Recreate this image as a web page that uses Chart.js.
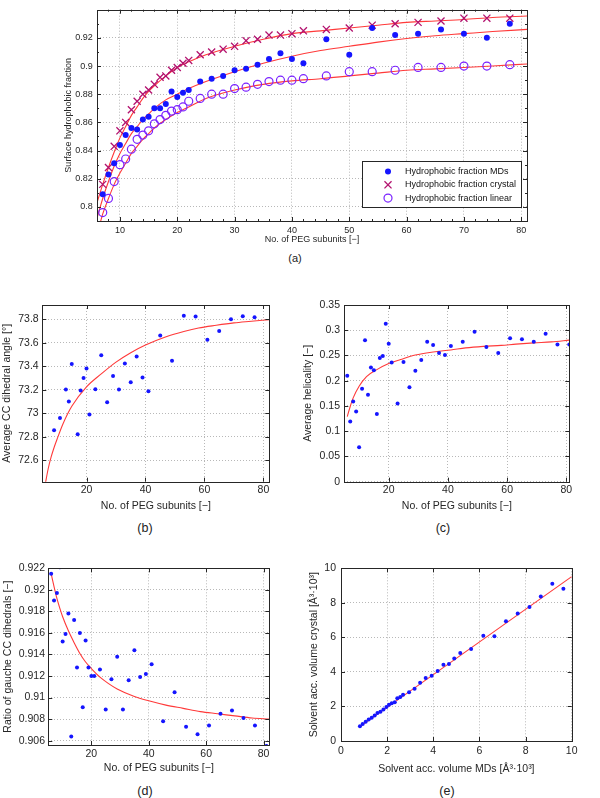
<!DOCTYPE html>
<html><head><meta charset="utf-8">
<script src="https://cdn.jsdelivr.net/npm/chart.js@4.4.1/dist/chart.umd.min.js"></script>
<style>
html,body{margin:0;padding:0;background:#fff;}
#wrap{position:relative;width:600px;height:798px;overflow:hidden;background:#fff;font-family:"Liberation Sans",Arial,Helvetica,sans-serif;}
canvas{position:absolute;}
.lab{position:absolute;transform:translate(-50%,-50%);color:#222;white-space:nowrap;}
</style></head><body>
<div id="wrap">
<canvas id="cA" width="600" height="250" style="left:0;top:0;width:600px;height:250px"></canvas>
<canvas id="cB" width="300" height="230" style="left:0;top:290px;width:300px;height:230px"></canvas>
<canvas id="cC" width="300" height="230" style="left:300px;top:290px;width:300px;height:230px"></canvas>
<canvas id="cD" width="300" height="240" style="left:0;top:540px;width:300px;height:240px"></canvas>
<canvas id="cE" width="300" height="240" style="left:300px;top:540px;width:300px;height:240px"></canvas>
<div class="lab" style="left:295px;top:258px;font-size:11px">(a)</div>
<div class="lab" style="left:145px;top:528px;font-size:12.5px">(b)</div>
<div class="lab" style="left:443px;top:528px;font-size:12.5px">(c)</div>
<div class="lab" style="left:145px;top:791px;font-size:12.5px">(d)</div>
<div class="lab" style="left:447px;top:791px;font-size:12.5px">(e)</div>
</div>
<script>
// ---------------- DATA ----------------
// (a) surface hydrophobic fraction
const subunitsA = [7,8,9,10,11,12,13,14,15,16,17,18,19,20,21,22,24,26,28,30,32,34,36,38,40,42,46,50,54,58,62,66,70,74,78];
const fracMD = [0.809,0.823,0.831,0.844,0.851,0.856,0.855,0.862,0.864,0.870,0.870,0.873,0.882,0.878,0.881,0.883,0.889,0.891,0.893,0.897,0.898,0.901,0.905,0.909,0.905,0.902,0.919,0.908,0.927,0.922,0.923,0.926,0.923,0.920,0.930];
const fracCrystal = [0.816,0.828,0.843,0.854,0.860,0.869,0.875,0.880,0.883,0.887,0.892,0.893,0.897,0.899,0.902,0.904,0.908,0.910,0.912,0.914,0.918,0.919,0.922,0.922,0.923,0.925,0.926,0.927,0.929,0.930,0.931,0.932,0.934,0.934,0.934];
const fracLinear = [0.796,0.806,0.818,0.830,0.834,0.841,0.848,0.851,0.854,0.859,0.862,0.865,0.868,0.869,0.871,0.875,0.877,0.880,0.880,0.884,0.885,0.887,0.889,0.890,0.890,0.891,0.893,0.896,0.896,0.897,0.899,0.899,0.900,0.900,0.901];
const fitSubunitsA = [6,7,8,9,10,11,12,13,14,15,16,18,20,22,25,30,35,40,45,50,55,60,65,70,75,81];
const fitMD = [0.792,0.806,0.818,0.829,0.838,0.845,0.852,0.857,0.862,0.866,0.870,0.876,0.880,0.884,0.889,0.896,0.902,0.907,0.911,0.914,0.917,0.9195,0.9215,0.923,0.9245,0.926];
const fitCrystal = [0.803,0.816,0.828,0.839,0.849,0.857,0.865,0.871,0.877,0.882,0.886,0.893,0.899,0.903,0.908,0.914,0.919,0.923,0.925,0.927,0.929,0.931,0.932,0.933,0.9345,0.9355];
const fitLinear = [0.780,0.795,0.806,0.816,0.824,0.831,0.838,0.843,0.848,0.852,0.856,0.862,0.867,0.871,0.877,0.883,0.887,0.8895,0.891,0.893,0.895,0.897,0.898,0.899,0.900,0.9015];
const xTicksA = [10,20,30,40,50,60,70,80];
const yTicksA = [0.8,0.82,0.84,0.86,0.88,0.9,0.92];
const xMinorA = [8,12,14,16,18,22,24,26,28,32,34,36,38,42,44,46,48,52,54,56,58,62,64,66,68,72,74,76,78];
const yMinorA = [0.81,0.83,0.85,0.87,0.89,0.91,0.93];
const legendA = ['Hydrophobic fraction MDs','Hydrophobic fraction crystal','Hydrophobic fraction linear'];

// (b) average CC dihedral angle
const subunitsB = [9,11,13,14,15,17,18,19,20,21,23,25,27,29,31,33,35,37,39,41,45,49,53,57,61,65,69,73,77];
const dihedralB = [72.857,72.961,73.202,73.10,73.42,72.823,73.194,73.30,73.38,72.99,73.205,73.494,73.095,73.318,73.202,73.423,73.265,73.483,73.304,73.188,73.661,73.446,73.828,73.823,73.624,73.70,73.80,73.825,73.817];
const fitSubunitsB = [6,7,8,9,10,12,15,20,25,30,35,40,47,53,58,64,70,75,82];
const fitDihedralB = [72.40,72.53,72.63,72.71,72.78,72.91,73.06,73.225,73.335,73.435,73.515,73.58,73.65,73.695,73.725,73.748,73.768,73.78,73.795];
const xTicksBCD = [20,40,60,80];
const yTicksB = [72.6,72.8,73,73.2,73.4,73.6,73.8];

// (c) average helicality
const subunitsC = [6,7,8,9,10,11,12,13,14,15,16,17,18,19,20,21,23,25,27,29,31,33,35,37,39,41,45,49,53,57,61,65,69,73,77,81];
const helicalityC = [0.210,0.119,0.159,0.139,0.068,0.184,0.280,0.172,0.226,0.221,0.134,0.245,0.249,0.313,0.273,0.236,0.155,0.237,0.187,0.220,0.241,0.277,0.271,0.255,0.251,0.269,0.277,0.297,0.267,0.255,0.284,0.282,0.277,0.293,0.272,0.272];
const fitSubunitsC = [6,7,8,10,12.5,16,20,24,29,35,41,46,52,58,63,69,75,81];
const fitHelicalityC = [0.129,0.149,0.166,0.189,0.208,0.222,0.234,0.242,0.251,0.257,0.261,0.265,0.268,0.270,0.2725,0.275,0.277,0.2805];
const yTicksC = [0,0.05,0.1,0.15,0.2,0.25,0.3,0.35];

// (d) ratio of gauche CC dihedrals
const subunitsD = [6,7,8,9,10,11,12,13,14,15,16,17,18,19,20,21,23,25,27,29,31,33,35,37,39,41,45,49,53,57,61,65,69,73,77,81];
const gaucheD = [0.9215,0.9190,0.9197,0.9221,0.9152,0.9159,0.9178,0.9064,0.9172,0.9128,0.9160,0.9091,0.9153,0.9128,0.9120,0.9120,0.9126,0.9089,0.9117,0.9138,0.9089,0.9116,0.9144,0.9119,0.9122,0.9131,0.9078,0.9105,0.9073,0.9066,0.9074,0.9085,0.9088,0.9081,0.9074,0.9055];
const fitSubunitsD = [6,7,8,9,10,12,14,16,18,20,23,26,29,35,40,46,52,58,64,70,76,82];
const fitGaucheD = [0.9215,0.9203,0.9192,0.9183,0.9175,0.9162,0.9151,0.9141,0.9133,0.9127,0.9119,0.9113,0.9108,0.9101,0.9097,0.9093,0.9090,0.9087,0.9085,0.9083,0.9081,0.9080];
const yTicksD = [0.906,0.908,0.91,0.912,0.914,0.916,0.918,0.92,0.922];

// (e) solvent accessible volume
const volumeMD = [0.82,0.94,1.07,1.20,1.33,1.46,1.58,1.71,1.84,1.97,2.08,2.20,2.33,2.44,2.57,2.69,2.95,3.19,3.43,3.67,3.93,4.19,4.44,4.68,4.91,5.17,5.64,6.17,6.65,7.15,7.66,8.17,8.66,9.16,9.64];
const volumeCrystal = [0.85,0.98,1.12,1.24,1.35,1.47,1.62,1.70,1.82,1.97,2.10,2.18,2.24,2.47,2.55,2.68,2.82,3.03,3.38,3.65,3.78,4.05,4.42,4.46,4.77,5.10,5.33,6.10,6.06,6.93,7.38,7.76,8.36,9.11,8.82];
const fitVolumeX = [0.82,10];
const fitVolumeY = [0.83,9.52];
const ticksE = [0,2,4,6,8,10];

// ---------------- STYLE / HELPERS ----------------
const FONT = '"Liberation Sans", Arial, Helvetica, sans-serif';
const INK = '#262626';
const RED = '#ff3a3a';
const BLUE = '#1515ff';
const CRIMSON = '#b3126f';
const VIOLET = '#7a22ff';
const pts = (xs, ys) => xs.map((x, i) => ({x: x, y: ys[i]}));

const matlabBox = {
  id: 'matlabBox',
  afterDraw(chart, args, o) {
    const ctx = chart.ctx, a = chart.chartArea, xs = chart.scales.x, ys = chart.scales.y;
    ctx.save();
    ctx.strokeStyle = INK; ctx.lineWidth = 1;
    ctx.beginPath();
    const tx = (v, len) => { const p = Math.round(xs.getPixelForValue(v)) + 0.5;
      ctx.moveTo(p, a.bottom); ctx.lineTo(p, a.bottom - len); ctx.moveTo(p, a.top); ctx.lineTo(p, a.top + len); };
    const ty = (v, len) => { const p = Math.round(ys.getPixelForValue(v)) + 0.5;
      ctx.moveTo(a.left, p); ctx.lineTo(a.left + len, p); ctx.moveTo(a.right, p); ctx.lineTo(a.right - len, p); };
    xs.ticks.forEach(t => tx(t.value, 4));
    ys.ticks.forEach(t => ty(t.value, 4));
    (o.minorX || []).forEach(v => tx(v, 2));
    (o.minorY || []).forEach(v => ty(v, 2));
    ctx.stroke();
    ctx.strokeRect(Math.round(a.left) + 0.5, Math.round(a.top) + 0.5, Math.round(a.right - a.left), Math.round(a.bottom - a.top));
    ctx.restore();
  }
};

function drawMarker(ctx, ds, x, y) {
  ctx.save();
  ctx.lineWidth = ds.pointBorderWidth || 1;
  ctx.strokeStyle = ds.pointBorderColor; ctx.fillStyle = ds.pointBackgroundColor;
  const r = ds.pointRadius;
  ctx.beginPath();
  if (ds.pointStyle === 'crossRot') {
    const d = r * Math.SQRT1_2;
    ctx.moveTo(x - d, y - d); ctx.lineTo(x + d, y + d);
    ctx.moveTo(x + d, y - d); ctx.lineTo(x - d, y + d);
    ctx.stroke();
  } else {
    ctx.arc(x, y, r, 0, Math.PI * 2);
    ctx.fill();
    if (ds.pointBorderWidth) ctx.stroke();
  }
  ctx.restore();
}

const boxLegend = {
  id: 'boxLegend',
  afterDraw(chart, args, o) {
    if (!o.show) return;
    const ctx = chart.ctx, a = chart.chartArea;
    const items = chart.data.datasets.filter(d => d.inLegend);
    const x0 = Math.round(a.right - o.right - o.width), y0 = Math.round(a.bottom - o.bottom - o.height);
    ctx.save();
    ctx.fillStyle = '#fff'; ctx.fillRect(x0, y0, o.width, o.height);
    ctx.strokeStyle = INK; ctx.lineWidth = 1; ctx.strokeRect(x0 + 0.5, y0 + 0.5, o.width, o.height);
    ctx.font = o.font; ctx.textBaseline = 'middle'; ctx.textAlign = 'left';
    items.forEach((ds, i) => {
      const y = y0 + o.rowTop + i * o.rowH;
      drawMarker(ctx, ds, x0 + o.markerX, y);
      ctx.fillStyle = '#111'; ctx.fillText(ds.label, x0 + o.textX, y);
    });
    ctx.restore();
  }
};

function axis(o) {
  return {
    type: 'linear', position: o.pos, min: o.min, max: o.max,
    afterBuildTicks: s => { s.ticks = o.ticks.map(v => ({value: v})); },
    afterFit: s => { if (o.pos === 'left') s.width = o.size; else s.height = o.size; },
    grid: {color: '#b8b8b8', lineWidth: 1, drawTicks: false},
    border: {display: false, dash: [1, 2]},
    ticks: {autoSkip: false, maxRotation: 0, minRotation: 0, padding: o.pad, color: INK,
            font: {family: FONT, size: o.fs}, callback: v => String(v)},
    title: {display: true, text: o.title, color: INK, font: {family: FONT, size: o.fs}, padding: o.tpad}
  };
}

function dots(label, xs, ys, r) {
  return {label: label, data: pts(xs, ys), showLine: false, pointStyle: 'circle', pointRadius: r,
    pointHoverRadius: r, pointBackgroundColor: BLUE, pointBorderColor: BLUE, pointBorderWidth: 0};
}
function fit(label, xs, ys) {
  return {label: label, data: pts(xs, ys), showLine: true, pointRadius: 0, pointHoverRadius: 0,
    borderColor: RED, borderWidth: 1.1, fill: false, cubicInterpolationMode: 'monotone'};
}

function make(id, datasets, pad, xo, yo, legendOpts, box) {
  return new Chart(document.getElementById(id), {
    type: 'scatter',
    data: {datasets: datasets},
    options: {
      responsive: false, maintainAspectRatio: false, animation: false, devicePixelRatio: 1,
      layout: {padding: pad},
      events: [],
      plugins: {legend: {display: false}, tooltip: {enabled: false}, title: {display: false},
                boxLegend: legendOpts || {show: false}, matlabBox: box || {}},
      scales: {x: axis(Object.assign({pos: 'bottom'}, xo)), y: axis(Object.assign({pos: 'left'}, yo))}
    },
    plugins: [matlabBox, boxLegend]
  });
}

// ---------------- (a) ----------------
const dsMD = dots(legendA[0], subunitsA, fracMD, 3); dsMD.inLegend = true;
const dsCr = {label: legendA[1], data: pts(subunitsA, fracCrystal), showLine: false, pointStyle: 'crossRot',
  pointRadius: 5, pointHoverRadius: 5, pointBorderColor: CRIMSON, pointBackgroundColor: CRIMSON, pointBorderWidth: 1.3, inLegend: true};
const dsLi = {label: legendA[2], data: pts(subunitsA, fracLinear), showLine: false, pointStyle: 'circle',
  pointRadius: 4, pointHoverRadius: 4, pointBorderColor: VIOLET, pointBackgroundColor: 'rgba(0,0,0,0)', pointBorderWidth: 1.2, inLegend: true};
make('cA', [dsMD, dsCr, dsLi,
    fit('fit MDs', fitSubunitsA, fitMD), fit('fit crystal', fitSubunitsA, fitCrystal), fit('fit linear', fitSubunitsA, fitLinear)],
  {left: 0, right: 73, top: 9, bottom: 0},
  {min: 6, max: 81, ticks: xTicksA, size: 29, pad: 4, fs: 9, title: 'No. of PEG subunits [\u2212]', tpad: {top: 0, bottom: 4.6}},
  {min: 0.79, max: 0.94, ticks: yTicksA, size: 97, pad: 4.3, fs: 9, title: 'Surface hydrophobic fraction', tpad: {top: 63, bottom: 0}},
  {show: true, width: 159, height: 46, right: 6, bottom: 14, rowTop: 10.5, rowH: 13.3, markerX: 26, textX: 43, font: '9px ' + FONT},
  {minorX: xMinorA, minorY: yMinorA});

// ---------------- (b) ----------------
make('cB', [dots('Average CC dihedral angle', subunitsB, dihedralB, 2), fit('fit', fitSubunitsB, fitDihedralB)],
  {left: 0, right: 30.7, top: 15, bottom: 0},
  {min: 5, max: 82, ticks: xTicksBCD, size: 38.3, pad: 2, fs: 10.5, title: 'No. of PEG subunits [\u2212]', tpad: {top: 0, bottom: 7.7}},
  {min: 72.42, max: 73.92, ticks: yTicksB, size: 42.3, pad: 3.6, fs: 10.5, title: 'Average CC dihedral angle [\u00b0]', tpad: {top: 1, bottom: 0}});

// ---------------- (c) ----------------
make('cC', [dots('Average helicality', subunitsC, helicalityC, 2), fit('fit', fitSubunitsC, fitHelicalityC)],
  {left: 0, right: 30.7, top: 15, bottom: 0},
  {min: 5, max: 81, ticks: xTicksBCD, size: 38.3, pad: 2, fs: 10.5, title: 'No. of PEG subunits [\u2212]', tpad: {top: 0, bottom: 7.7}},
  {min: 0, max: 0.35, ticks: yTicksC, size: 44.3, pad: 4.3, fs: 10.5, title: 'Average helicality [\u2212]', tpad: {top: 2, bottom: 0}});

// ---------------- (d) ----------------
make('cD', [dots('Ratio of gauche CC dihedrals', subunitsD, gaucheD, 2), fit('fit', fitSubunitsD, fitGaucheD)],
  {left: 0, right: 30.7, top: 28.3, bottom: 0},
  {min: 5, max: 82, ticks: xTicksBCD, size: 35, pad: 2.4, fs: 10.5, title: 'No. of PEG subunits [\u2212]', tpad: {top: 0, bottom: 5.4}},
  {min: 0.9056, max: 0.922, ticks: yTicksD, size: 48.3, pad: 3.3, fs: 10.5, title: 'Ratio of gauche CC dihedrals [\u2212]', tpad: {top: 2, bottom: 0}});

// ---------------- (e) ----------------
make('cE', [dots('Solvent acc. volume', volumeMD, volumeCrystal, 2), fit('fit', fitVolumeX, fitVolumeY)],
  {left: 0, right: 28.3, top: 28.3, bottom: 0},
  {min: 0, max: 10, ticks: ticksE, size: 39, pad: 3.5, fs: 10.5, title: 'Solvent acc. volume MDs [\u00c5\u00b3\u00b710\u00b3]', tpad: {top: 0, bottom: 5}},
  {min: 0, max: 10, ticks: ticksE, size: 41, pad: 5, fs: 10.5, title: 'Solvent acc. volume crystal [\u00c5\u00b3\u00b710\u00b3]', tpad: {top: 7.4, bottom: 0}});
</script>
</body></html>
